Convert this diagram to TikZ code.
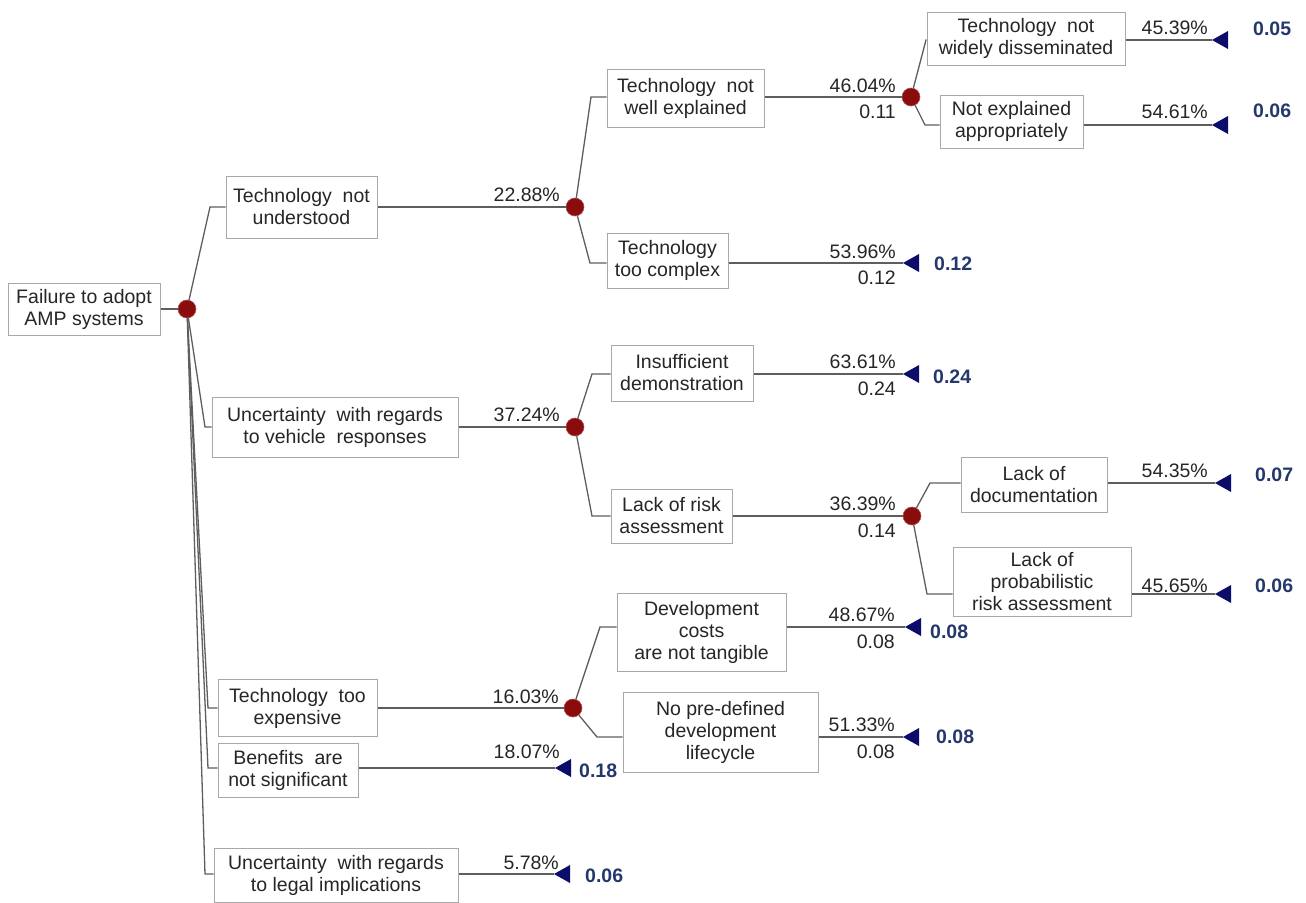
\documentclass[tikz,border=0pt]{standalone}
\usepackage{fontspec}
\setmainfont{Liberation Sans}
\definecolor{boxgray}{HTML}{A8A8A8}
\definecolor{linegray}{HTML}{5E5E5E}
\definecolor{txt}{HTML}{262626}
\definecolor{chancered}{HTML}{8A0C0C}
\definecolor{trinavy}{HTML}{0C0C6A}
\definecolor{valblue}{HTML}{24386E}
\begin{document}
\begin{tikzpicture}[x=1pt,y=-1pt,
  box/.style={draw=boxgray, line width=1pt, fill=white, align=center, inner sep=1pt,
    font=\fontsize{19.5}{22}\selectfont, text=txt},
  chance/.style={circle, fill=chancered, draw=chancered!70!white, line width=0.6pt,
    minimum size=18pt, inner sep=0pt},
  link/.style={draw=linegray, line width=1.3pt},
  pct/.style={font=\fontsize{19.5}{22}\selectfont, text=txt, inner sep=0pt},
  val/.style={font=\bfseries\fontsize{19.5}{22}\selectfont, text=valblue, inner sep=0pt},
  term/.pic={\fill[trinavy] (0,0) -- (16,-9) -- (16,9) -- cycle;}
]
\useasboundingbox (0,0) rectangle (1306,902);
\fill[white] (0,0) rectangle (1306,902);

% ---------- boxes ----------
\node[box, minimum width=152, minimum height=52] (root) at (84,309) {Failure to adopt\\AMP systems};
\node[box, minimum width=151, minimum height=62] (tnu) at (301.5,207) {Technology\ \ not\\understood};
\node[box, minimum width=246, minimum height=60] (uvr) at (335,427) {Uncertainty\ \ with regards\\to vehicle\ \ responses};
\node[box, minimum width=159, minimum height=57] (tte) at (297.5,708) {Technology\ \ too\\expensive};
\node[box, minimum width=140, minimum height=54] (bns) at (288,770) {Benefits\ \ are\\not significant};
\node[box, minimum width=244, minimum height=54] (ulg) at (336,875) {Uncertainty\ \ with regards\\to legal implications};

\node[box, minimum width=157, minimum height=58] (twe) at (685.5,98) {Technology\ \ not\\well explained};
\node[box, minimum width=121, minimum height=55] (ttc) at (667.5,260.5) {Technology\\too complex};
\node[box, minimum width=198, minimum height=53] (twd) at (1026,38.5) {Technology\ \ not\\widely disseminated};
\node[box, minimum width=143, minimum height=53] (nea) at (1011.5,121.5) {Not explained\\appropriately};

\node[box, minimum width=142, minimum height=56] (ids) at (682,373) {Insufficient\\demonstration};
\node[box, minimum width=121, minimum height=54] (lra) at (671.5,516) {Lack of risk\\assessment};
\node[box, minimum width=146, minimum height=55] (lod) at (1034,484.5) {Lack of\\documentation};
\node[box, minimum width=178, minimum height=69] (lpr) at (1042,581.5) {Lack of\\probabilistic\\risk assessment};

\node[box, minimum width=169, minimum height=78] (dcn) at (701.5,632) {Development\\costs\\are not tangible};
\node[box, minimum width=195, minimum height=80] (npd) at (720.5,732) {No pre-defined\\development\\lifecycle};

% ---------- chance nodes ----------
\node[chance] (r) at (187,309) {};
\node[chance] (c1) at (575,207) {};
\node[chance] (c2) at (575,427) {};
\node[chance] (c3) at (573,708) {};
\node[chance] (c4) at (911,97) {};
\node[chance] (c5) at (912,516) {};

% ---------- terminal points ----------
\coordinate (tD) at (555,768);
\coordinate (tE) at (554,874);
\coordinate (tttc) at (903,263);
\coordinate (ttwd) at (1212,40);
\coordinate (tnea) at (1212,125);
\coordinate (tids) at (903,374);
\coordinate (tlod) at (1215,483);
\coordinate (tlpr) at (1215,594);
\coordinate (tdcn) at (905,627);
\coordinate (tnpd) at (903,737);

% ---------- bend points ----------
\coordinate (bA) at (210,207);
\coordinate (bB) at (205,427);
\coordinate (bC) at (208,708);
\coordinate (bD) at (208,768);
\coordinate (bE) at (205,874);
\coordinate (btwe) at (591,97);
\coordinate (bttc) at (590,263);
\coordinate (btwd) at (926,40);
\coordinate (bnea) at (925,125);
\coordinate (bids) at (592,374);
\coordinate (blra) at (592,516);
\coordinate (blod) at (930,483);
\coordinate (blpr) at (927,594);
\coordinate (bdcn) at (600,627);
\coordinate (bnpd) at (597,737);

% ---------- connectors ----------
\draw[link] (root.east) -- (r);
\draw[link] (r) -- (bA) -- (tnu.west |- bA);
\draw[link] (r) -- (bB) -- (uvr.west |- bB);
\draw[link] (r) -- (bC) -- (tte.west |- bC);
\draw[link] (r) -- (bD) -- (bns.west |- bD);
\draw[link] (r) -- (bE) -- (ulg.west |- bE);

\draw[link] (tnu.east |- c1) -- (c1);
\draw[link] (uvr.east |- c2) -- (c2);
\draw[link] (tte.east |- c3) -- (c3);
\draw[link] (bns.east |- tD) -- (tD);
\draw[link] (ulg.east |- tE) -- (tE);

\draw[link] (c1) -- (btwe) -- (twe.west |- btwe);
\draw[link] (c1) -- (bttc) -- (ttc.west |- bttc);
\draw[link] (twe.east |- c4) -- (c4);
\draw[link] (ttc.east |- tttc) -- (tttc);

\draw[link] (c4) -- (btwd) -- (twd.west |- btwd);
\draw[link] (c4) -- (bnea) -- (nea.west |- bnea);
\draw[link] (twd.east |- ttwd) -- (ttwd);
\draw[link] (nea.east |- tnea) -- (tnea);

\draw[link] (c2) -- (bids) -- (ids.west |- bids);
\draw[link] (c2) -- (blra) -- (lra.west |- blra);
\draw[link] (ids.east |- tids) -- (tids);
\draw[link] (lra.east |- c5) -- (c5);

\draw[link] (c5) -- (blod) -- (lod.west |- blod);
\draw[link] (c5) -- (blpr) -- (lpr.west |- blpr);
\draw[link] (lod.east |- tlod) -- (tlod);
\draw[link] (lpr.east |- tlpr) -- (tlpr);

\draw[link] (c3) -- (bdcn) -- (dcn.west |- bdcn);
\draw[link] (c3) -- (bnpd) -- (npd.west |- bnpd);
\draw[link] (dcn.east |- tdcn) -- (tdcn);
\draw[link] (npd.east |- tnpd) -- (tnpd);

% ---------- terminal triangles ----------
\foreach \t in {tD,tE,tttc,ttwd,tnea,tids,tlod,tlpr,tdcn,tnpd} { \pic at (\t) {term}; }

% ---------- probability labels ----------
\node[pct, anchor=base east] (p1) at (560,201) {22.88\%};
\node[pct, anchor=base east] (p2) at (560,421) {37.24\%};
\node[pct, anchor=base east] (p3) at (559,703) {16.03\%};
\node[pct, anchor=base east] (p4) at (560,758) {18.07\%};
\node[pct, anchor=base east] (p5) at (559,869) {5.78\%};

\node[pct, anchor=base east] (p6) at (896,92) {46.04\%};
\node[pct, anchor=base east] (q6) at (896,118) {0.11};
\node[pct, anchor=base east] (p7) at (896,258) {53.96\%};
\node[pct, anchor=base east] (q7) at (896,284) {0.12};
\node[pct, anchor=base east] (p8) at (896,368) {63.61\%};
\node[pct, anchor=base east] (q8) at (896,395) {0.24};
\node[pct, anchor=base east] (p9) at (896,510) {36.39\%};
\node[pct, anchor=base east] (q9) at (896,537) {0.14};
\node[pct, anchor=base east] (p10) at (895,621) {48.67\%};
\node[pct, anchor=base east] (q10) at (895,648) {0.08};
\node[pct, anchor=base east] (p11) at (895,731) {51.33\%};
\node[pct, anchor=base east] (q11) at (895,758) {0.08};

\node[pct, anchor=base east] (p12) at (1208,34) {45.39\%};
\node[pct, anchor=base east] (p13) at (1208,118) {54.61\%};
\node[pct, anchor=base east] (p14) at (1208,477) {54.35\%};
\node[pct, anchor=base east] (p15) at (1208,592) {45.65\%};

% ---------- payoff values ----------
\node[val, anchor=base west] (v1) at (934,270) {0.12};
\node[val, anchor=base west] (v2) at (933,383) {0.24};
\node[val, anchor=base west] (v3) at (930,638) {0.08};
\node[val, anchor=base west] (v4) at (936,743) {0.08};
\node[val, anchor=base west] (v5) at (579,777) {0.18};
\node[val, anchor=base west] (v6) at (585,882) {0.06};
\node[val, anchor=base west] (v7) at (1253,35) {0.05};
\node[val, anchor=base west] (v8) at (1253,117) {0.06};
\node[val, anchor=base west] (v9) at (1255,481) {0.07};
\node[val, anchor=base west] (v10) at (1255,592) {0.06};
\end{tikzpicture}
\end{document}
